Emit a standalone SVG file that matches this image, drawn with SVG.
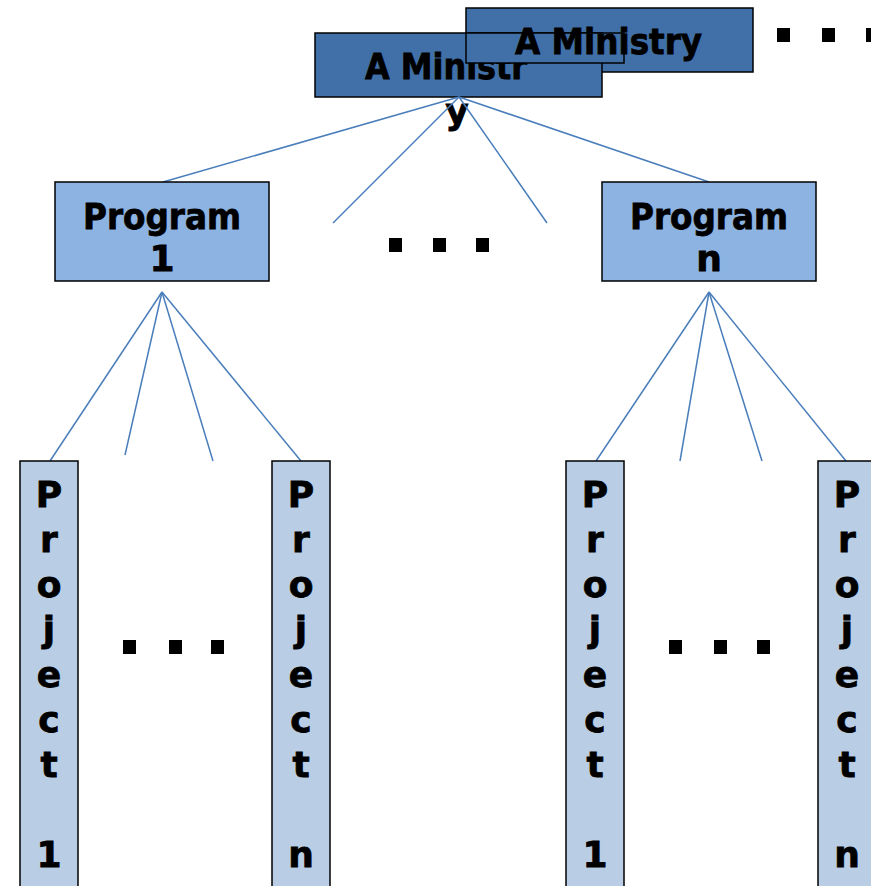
<svg xmlns="http://www.w3.org/2000/svg" width="871" height="886" viewBox="0 0 871 886">
  <style>
    .lbl { font-family: "DejaVu Sans", "Liberation Sans", sans-serif; font-weight: bold; font-size: 36px; fill: #000; stroke: #000; stroke-width: 0.8; }
    .mid { text-anchor: middle; }
    .ministry { fill: #4170A8; stroke: #000; stroke-width: 1.5; }
    .program { fill: #8DB3E2; stroke: #000; stroke-width: 1.5; }
    .project { fill: #B9CDE5; stroke: #000; stroke-width: 1.5; }
    .conn { stroke: #4A7EBB; stroke-width: 1.5; fill: none; }
    .dot { fill: #000; }
  </style>

  <!-- ministry level: a second ministry stacked behind the first -->
  <g id="ministry-2">
    <rect class="ministry" x="466" y="8" width="287" height="64"/>
  </g>
  <g id="ministry-1">
    <rect class="ministry" x="315" y="33" width="287" height="64"/>
    <text class="lbl" x="365" y="79" textLength="162" lengthAdjust="spacingAndGlyphs">A Ministr</text>
    <text class="lbl mid" x="457" y="124">y</text>
  </g>
  <g id="ministry-2-label">
    <rect class="ministry" x="466" y="33" width="158" height="30"/>
    <text class="lbl" x="515" y="54" textLength="187" lengthAdjust="spacingAndGlyphs">A Ministry</text>
  </g>
  <g id="more-ministries">
    <rect class="dot" x="777" y="28" width="13" height="14"/>
    <rect class="dot" x="822" y="28" width="13" height="14"/>
    <rect class="dot" x="866" y="28" width="13" height="14"/>
  </g>

  <!-- connectors -->
  <g id="connectors">
    <line class="conn" x1="459" y1="97" x2="163" y2="182"/>
    <line class="conn" x1="459" y1="97" x2="333" y2="223"/>
    <line class="conn" x1="459" y1="97" x2="547" y2="223"/>
    <line class="conn" x1="459" y1="97" x2="709" y2="182"/>

    <line class="conn" x1="162" y1="292" x2="50" y2="461"/>
    <line class="conn" x1="162" y1="292" x2="125" y2="455"/>
    <line class="conn" x1="162" y1="292" x2="213" y2="461"/>
    <line class="conn" x1="162" y1="292" x2="301" y2="461"/>

    <line class="conn" x1="709" y1="292" x2="596" y2="461"/>
    <line class="conn" x1="709" y1="292" x2="680" y2="461"/>
    <line class="conn" x1="709" y1="292" x2="762" y2="461"/>
    <line class="conn" x1="709" y1="292" x2="846" y2="461"/>
  </g>

  <!-- program level -->
  <g id="program-1">
    <rect class="program" x="55" y="182" width="214" height="99"/>
    <text class="lbl mid" x="162" y="229" textLength="158" lengthAdjust="spacingAndGlyphs">Program</text>
    <text class="lbl mid" x="162" y="271">1</text>
  </g>
  <g id="more-programs">
    <rect class="dot" x="389" y="238" width="13" height="14"/>
    <rect class="dot" x="433" y="238" width="13" height="14"/>
    <rect class="dot" x="476" y="238" width="13" height="14"/>
  </g>
  <g id="program-n">
    <rect class="program" x="602" y="182" width="214" height="99"/>
    <text class="lbl mid" x="709" y="229" textLength="158" lengthAdjust="spacingAndGlyphs">Program</text>
    <text class="lbl mid" x="709" y="271">n</text>
  </g>

  <!-- project level: labels run one letter per line -->
  <g id="project-1-1">
    <rect class="project" x="20" y="461" width="58" height="440"/>
    <text class="lbl mid" x="49">
      <tspan x="49" y="507">P</tspan><tspan x="49" y="552">r</tspan><tspan x="49" y="597">o</tspan><tspan x="49" y="642">j</tspan><tspan x="49" y="687">e</tspan><tspan x="49" y="732">c</tspan><tspan x="49" y="777">t</tspan><tspan x="49" y="867">1</tspan>
    </text>
  </g>
  <g id="more-projects-1">
    <rect class="dot" x="123" y="640" width="13" height="14"/>
    <rect class="dot" x="169" y="640" width="13" height="14"/>
    <rect class="dot" x="211" y="640" width="13" height="14"/>
  </g>
  <g id="project-1-n">
    <rect class="project" x="272" y="461" width="58" height="440"/>
    <text class="lbl mid" x="301">
      <tspan x="301" y="507">P</tspan><tspan x="301" y="552">r</tspan><tspan x="301" y="597">o</tspan><tspan x="301" y="642">j</tspan><tspan x="301" y="687">e</tspan><tspan x="301" y="732">c</tspan><tspan x="301" y="777">t</tspan><tspan x="301" y="867">n</tspan>
    </text>
  </g>

  <g id="project-n-1">
    <rect class="project" x="566" y="461" width="58" height="440"/>
    <text class="lbl mid" x="595">
      <tspan x="595" y="507">P</tspan><tspan x="595" y="552">r</tspan><tspan x="595" y="597">o</tspan><tspan x="595" y="642">j</tspan><tspan x="595" y="687">e</tspan><tspan x="595" y="732">c</tspan><tspan x="595" y="777">t</tspan><tspan x="595" y="867">1</tspan>
    </text>
  </g>
  <g id="more-projects-n">
    <rect class="dot" x="669" y="640" width="13" height="14"/>
    <rect class="dot" x="714" y="640" width="13" height="14"/>
    <rect class="dot" x="757" y="640" width="13" height="14"/>
  </g>
  <g id="project-n-n">
    <rect class="project" x="818" y="461" width="58" height="440"/>
    <text class="lbl mid" x="847">
      <tspan x="847" y="507">P</tspan><tspan x="847" y="552">r</tspan><tspan x="847" y="597">o</tspan><tspan x="847" y="642">j</tspan><tspan x="847" y="687">e</tspan><tspan x="847" y="732">c</tspan><tspan x="847" y="777">t</tspan><tspan x="847" y="867">n</tspan>
    </text>
  </g>
</svg>
